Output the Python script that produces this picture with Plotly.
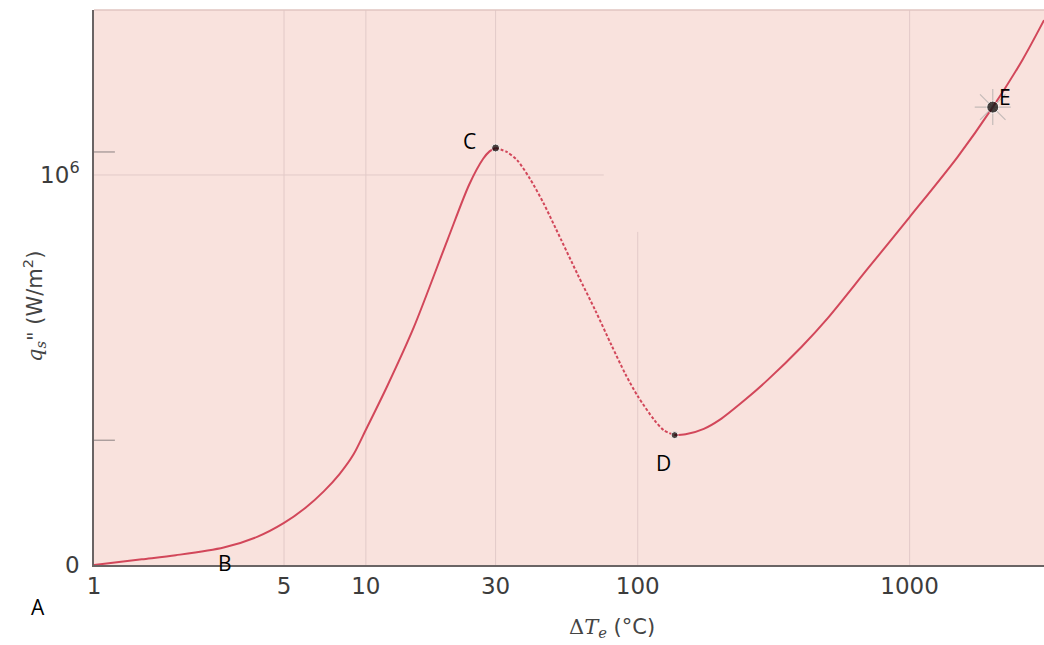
import math
import plotly.graph_objects as go

# ---- data ----
# nucleate boiling (solid, A-B-C)
dT_nucleate = [1, 1.5, 2, 3, 4, 5, 6, 7, 8, 9, 10, 12, 15, 20, 24, 27, 28.5, 30]
q_nucleate = [0, 1.46e4, 2.51e4, 4.49e4, 7.28e4, 1.079e5, 1.467e5, 1.887e5, 2.331e5, 2.831e5,
              3.467e5, 4.597e5, 6.092e5, 8.351e5, 9.756e5, 1.0415e6, 1.0605e6, 1.0692e6]
# transition boiling (dashed, C-D)
dT_transition = [30, 33, 36, 40, 45, 50, 60, 70, 80, 90, 100, 115, 125, 136.7]
q_transition = [1.0692e6, 1.059e6, 1.038e6, 0.992e6, 0.928e6, 0.862e6, 0.746e6, 0.651e6,
                0.564e6, 0.490e6, 0.433e6, 0.372e6, 0.345e6, 0.333e6]
# film boiling (solid, D-E and beyond)
dT_film = [136.7, 150, 175, 200, 250, 300, 400, 500, 700, 1000, 1500, 2022, 2600, 3122]
q_film = [0.333e6, 0.335e6, 0.349e6, 0.372e6, 0.4256e6, 0.474e6, 0.559e6, 0.633e6, 0.759e6,
          0.892e6, 1.046e6, 1.174e6, 1.295e6, 1.397e6]

# labelled points
point_names = ["C", "D", "E"]
point_dT = [30, 136.7, 2022]
point_q = [1.0692e6, 0.333e6, 1.174e6]

x_tick_vals = [1, 5, 10, 30, 100, 1000]
x_tick_text = ["1", "5", "10", "30", "100", "1000"]
y_tick_vals = [0, 1e6]
y_tick_text = ["0", "10<sup>6</sup>"]

LINE = "#d2475a"
BG = "#f9e2dd"
GRID = "#e2cac8"

fig = go.Figure()

fig.add_trace(go.Scatter(x=dT_nucleate, y=q_nucleate, mode="lines",
                         line=dict(color=LINE, width=2, shape="spline", smoothing=0.8), hoverinfo="skip"))
fig.add_trace(go.Scatter(x=dT_transition, y=q_transition, mode="lines",
                         line=dict(color=LINE, width=2, dash="3px,2px", shape="spline", smoothing=0.8),
                         hoverinfo="skip"))
fig.add_trace(go.Scatter(x=dT_film, y=q_film, mode="lines",
                         line=dict(color=LINE, width=2, shape="spline", smoothing=0.8), hoverinfo="skip"))

# scan-like glow around E
fig.add_trace(go.Scatter(x=[point_dT[2]], y=[point_q[2]], mode="markers",
                         marker=dict(symbol="asterisk-open", size=30, color="rgba(160,160,160,0.6)",
                                     line=dict(color="rgba(160,160,160,0.6)", width=1.2)),
                         hoverinfo="skip"))
fig.add_trace(go.Scatter(x=point_dT, y=point_q, mode="markers",
                         marker=dict(color="black", size=[8, 7, 12]), hoverinfo="skip"))

shapes = []
# vertical grid lines
for v, top in [(5, 1.423e6), (10, 1.423e6), (30, 1.423e6), (100, 0.854e6), (1000, 1.423e6)]:
    shapes.append(dict(type="line", xref="x", yref="y", x0=v, x1=v, y0=0, y1=top,
                       line=dict(color=GRID, width=1), layer="below"))
# horizontal grid line at 10^6
shapes.append(dict(type="line", xref="x", yref="y", x0=1, x1=75, y0=1e6, y1=1e6,
                   line=dict(color=GRID, width=1), layer="below"))
# short left tick marks
for yv in [1.059e6, 0.32e6]:
    shapes.append(dict(type="line", xref="paper", yref="y", x0=0, x1=0.022, y0=yv, y1=yv,
                       line=dict(color="#8a8080", width=1)))
# top frame line
shapes.append(dict(type="line", xref="paper", yref="paper", x0=0, x1=1, y0=1, y1=1,
                   line=dict(color="#e0c4c0", width=1.5)))

label_font = dict(family="Open Sans, Liberation Sans, sans-serif", size=21, color="black")
lg = math.log10
annotations = [
    dict(x=lg(point_dT[0]), y=point_q[0], xref="x", yref="y", text="C", showarrow=False,
         xshift=-26, yshift=7, font=label_font, xanchor="center", yanchor="middle"),
    dict(x=lg(point_dT[1]), y=point_q[1], xref="x", yref="y", text="D", showarrow=False,
         xshift=-11, yshift=-28, font=label_font, xanchor="center", yanchor="middle"),
    dict(x=lg(point_dT[2]), y=point_q[2], xref="x", yref="y", text="E", showarrow=False,
         xshift=12, yshift=10, font=label_font, xanchor="center", yanchor="middle"),
    dict(x=lg(3.09), y=0, xref="x", yref="y", text="B", showarrow=False,
         xshift=-2, yshift=2, font=label_font, xanchor="center", yanchor="middle"),
    dict(x=-0.059, y=-0.076, xref="paper", yref="paper", text="A", showarrow=False,
         font=label_font, xanchor="center", yanchor="middle"),
    dict(x=0.545, y=-0.1135, xref="paper", yref="paper",
         text="<span style='font-family:DejaVu Serif'>Δ<i>T</i><sub><i>e</i></sub></span> (°C)",
         showarrow=False, xanchor="center", yanchor="middle",
         font=dict(family="DejaVu Sans", size=21, color="#444")),
    dict(x=-0.063, y=0.465, xref="paper", yref="paper", textangle=-90,
         text="<span style='font-family:DejaVu Serif'><i>q</i><sub><i>s</i></sub>\"</span> (W/m<sup>2</sup>)",
         showarrow=False, xanchor="center", yanchor="middle",
         font=dict(family="DejaVu Sans", size=21, color="#444")),
]

fig.update_layout(
    width=1044, height=645,
    margin=dict(l=94, r=0, t=10, b=80),
    paper_bgcolor="white", plot_bgcolor=BG,
    showlegend=False,
    shapes=shapes, annotations=annotations,
    xaxis=dict(type="log", range=[0, 3.4943], tickvals=x_tick_vals, ticktext=x_tick_text,
               showgrid=False, zeroline=False, showline=True, linecolor="#6a6464", linewidth=1.5,
               ticks="", tickfont=dict(family="DejaVu Sans", size=23, color="#3c3c3c")),
    yaxis=dict(range=[0, 1.423e6], tickvals=y_tick_vals, ticktext=y_tick_text,
               showgrid=False, zeroline=False, showline=True, linecolor="#6a6464", linewidth=1.5,
               ticks="", ticklabelstandoff=8,
               tickfont=dict(family="DejaVu Sans", size=23, color="#3c3c3c")),
)

fig.write_html("out.html", config={"displayModeBar": False},
               post_script="document.body.style.margin='0';")
